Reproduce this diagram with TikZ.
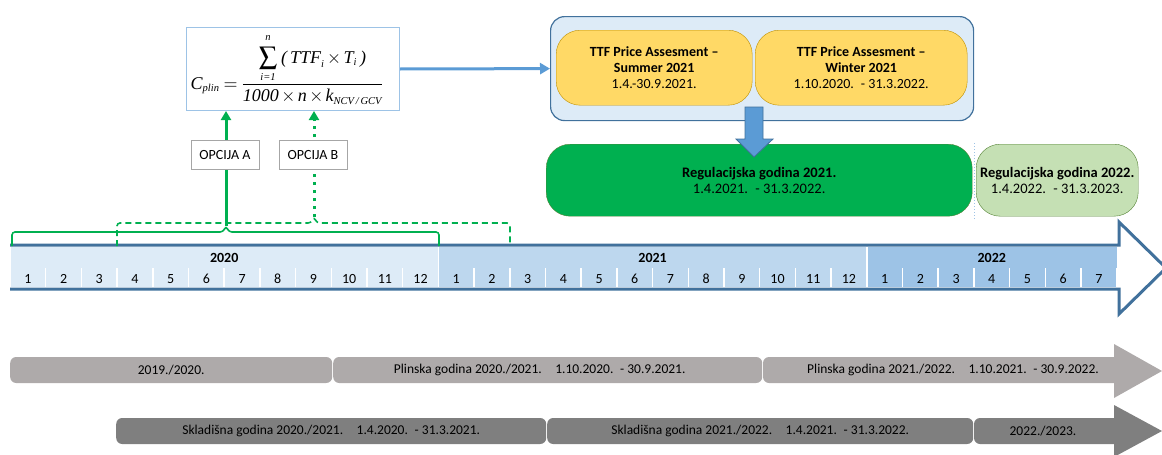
\documentclass[tikz,border=0pt]{standalone}
\usepackage{mathptmx}
\usepackage{fontspec}
\setmainfont{Carlito}
\newfontfamily\tnr{Liberation Serif}
\usetikzlibrary{arrows.meta}

\definecolor{plava}{HTML}{5B9BD5}
\definecolor{plavaT}{HTML}{41719C}
\definecolor{plavaS}{HTML}{9DC3E6}
\definecolor{god20}{HTML}{DDEBF7}
\definecolor{god21}{HTML}{BDD7EE}
\definecolor{god22}{HTML}{9DC3E6}
\definecolor{zuta}{HTML}{FFD966}
\definecolor{zutaT}{HTML}{BF9000}
\definecolor{zelena}{HTML}{00B050}
\definecolor{zelenaS}{HTML}{C5E0B4}
\definecolor{zelenaT}{HTML}{548235}
\definecolor{sivaS}{HTML}{AEAAAA}
\definecolor{sivaT}{HTML}{7F7F7F}

\def\mw{35.7} % width of one month
\def\xo{10}   % start of the time axis
% italic pieces of the formula
\newcommand\fv[1]{\mbox{\tnr\itshape\fontsize{18}{20}\selectfont #1}}
\newcommand\fm[1]{\mbox{\tnr\itshape\fontsize{10.5}{12}\selectfont #1}}

\tikzset{
  txt/.style={font=\fontsize{13.5}{15.5}\selectfont, align=center, inner sep=0pt},
  ttfbox/.style={txt, font=\fontsize{14}{16}\selectfont, draw=zutaT, fill=zuta, rounded corners=24, minimum height=75},
  regbox/.style={txt, font=\fontsize{14.5}{16}\selectfont, draw=zelenaT, rounded corners=24, minimum height=72},
  opcija/.style={txt, font=\fontsize{14}{16}\selectfont, draw=gray!70, fill=white, minimum width=68, minimum height=29},
  traka/.style={txt, fill=#1, rounded corners=6, minimum height=26},
  vrh/.style={-{Triangle[width=10pt,length=9pt]}}
}

\begin{document}
\begin{tikzpicture}[x=1pt,y=-1pt]
\useasboundingbox (0,0) rectangle (1162,455);

%% formula
\node[draw=plavaS, line width=1, fill=white, minimum width=213, minimum height=83, anchor=north west, inner sep=0pt] (cplin) at (186,27)
  {\hspace*{-12pt}\fontsize{18}{20}\selectfont $\displaystyle \fv{C}_{\fm{plin}}=\frac{\displaystyle\sum_{\fm{i=1}}^{\raisebox{3.5pt}{\fm{n}}}\,\fv{(\,TTF}_{\fm{i}}\times\fv{T}_{\fm{i}}\fv{\,)}}{\fv{1000}\times\fv{n}\times\fv{k}_{\fm{NCV\,/\,GCV}}}$};

%% TTF price assessment
\node[draw=plavaT, line width=1.2, fill=god20, rounded corners=14, minimum width=423, minimum height=104, anchor=north west] (ttf) at (550,16) {};
\node[ttfbox, minimum width=196, anchor=north west] (ljeto) at (556,30) {\textbf{TTF Price Assesment –}\\\textbf{Summer 2021}\\1.4.-30.9.2021.};
\node[ttfbox, minimum width=212, anchor=north west] (zima) at (755,30) {\textbf{TTF Price Assesment –}\\\textbf{Winter 2021}\\1.10.2020.\enspace- 31.3.2022.};
\draw[plava, line width=3, -{Triangle[width=11pt,length=10pt]}] (cplin.east) -- (ttf.west);

%% regulatory years
\node[regbox, fill=zelena, minimum width=426, anchor=north west] (reg21) at (546,144) {\textbf{Regulacijska godina 2021.}\\1.4.2021.\enspace - 31.3.2022.};
\node[regbox, fill=zelenaS, minimum width=162, anchor=north west] (reg22) at (976,144) {\textbf{Regulacijska godina 2022.}\\1.4.2022.\enspace - 31.3.2023.};
\draw[plavaS, dotted, line width=1] (974,143) -- (974,219);
% down arrow
\draw[plavaT, fill=plava, line width=.8] (745,107) -- (763,107) -- (763,139) -- (773,139) -- (754,157) -- (736,139) -- (745,139) -- cycle;

%% time axis
\draw[plavaT, line width=3, fill=white] (\xo,245) -- (1119,245) -- (1119,222) -- (1166,268) -- (1119,314) -- (1119,289) -- (\xo,289);
\foreach\god/\br/\od/\boja in {2020/12/0/god20,2021/12/12/god21,2022/7/24/god22}
  {
  \fill[\boja] ({\xo+\od*\mw},247) rectangle ({\xo+(\od+\br)*\mw},287);
  \node[txt, font=\fontsize{14}{16}\selectfont\bfseries] (g\god) at ({\xo+(\od+\br/2)*\mw},258) {\god};
  \foreach\k in {1,...,\br}
    {
    \node[txt, font=\fontsize{14}{16}\selectfont] (m\god-\k) at ({\xo+(\od+\k-.5)*\mw},279) {\k};
    \draw[white, line width=1.5] ({\xo+(\od+\k)*\mw},268) -- ({\xo+(\od+\k)*\mw},287);
    }
  \draw[white, line width=1.5] ({\xo+\od*\mw},247) -- ({\xo+\od*\mw},287);
  }

%% braces and options
\coordinate (a0) at (226,226);
\coordinate (b0) at (314,217);
\draw[zelena, line width=1.6, rounded corners=3] (12,246) |- (223,232) -- (a0) -- (229,232) -| (439,246);
\draw[zelena, line width=1.6, dash pattern=on 6pt off 4pt, rounded corners=3] (117,246) |- (311,223) -- (b0) -- (317,223) -| (510,246);
\draw[zelena, line width=3, vrh] (a0) -- (cplin.south -| a0);
\draw[zelena, line width=3, dash pattern=on 3pt off 5pt, vrh] (b0) -- (cplin.south -| b0);
\node[opcija] (optA) at (225,155) {OPCIJA A};
\node[opcija] (optB) at (313,155) {OPCIJA B};

%% gas years
\node[traka=sivaS, minimum width=322, anchor=west] (pg19) at (10,370) {2019./2020.};
\node[traka=sivaS, minimum width=429, anchor=west] (pg20) at (333,370) {Plinska godina 2020./2021.\quad 1.10.2020.\enspace - 30.9.2021.\hspace*{16pt}};
\fill[sivaS, rounded corners=6] (763,357) rectangle (1120,383);
\fill[sivaS] (1114,344) -- (1162,371) -- (1114,398) -- cycle;
\node[txt] (pg21) at (953,370) {Plinska godina 2021./2022.\quad 1.10.2021.\enspace - 30.9.2022.};

%% storage years
\node[traka=sivaT, minimum width=430, anchor=west] (sg20) at (116,431) {Skladišna godina 2020./2021.\quad 1.4.2020.\enspace - 31.3.2021.};
\node[traka=sivaT, minimum width=426, anchor=west] (sg21) at (547,431) {Skladišna godina 2021./2022.\quad 1.4.2021.\enspace - 31.3.2022.};
\fill[sivaT, rounded corners=6] (974,418) rectangle (1120,444);
\fill[sivaT] (1114,405) -- (1162,431) -- (1114,457) -- cycle;
\node[txt] (sg22) at (1043,431) {2022./2023.};

\end{tikzpicture}
\end{document}
